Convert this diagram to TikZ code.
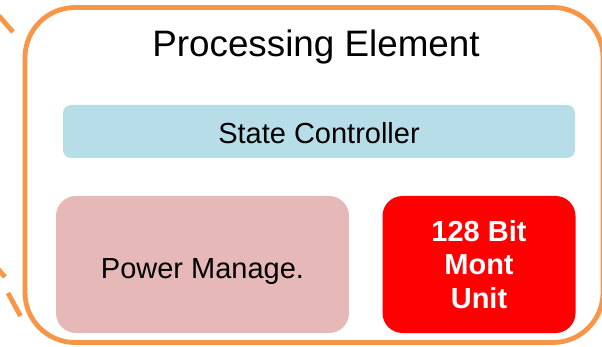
\documentclass[tikz,border=0pt]{standalone}
\usepackage{fontspec}
\setmainfont{Liberation Sans}
\definecolor{peorange}{HTML}{F79646}
\definecolor{scblue}{HTML}{B7DDE8}
\definecolor{pmpink}{HTML}{E6B9B8}
\definecolor{mured}{HTML}{FF0000}
\tikzset{
  peline/.style={draw=peorange, line width=4.8pt},
  innerbox/.style={draw=none, inner sep=0pt, outer sep=0pt},
  lbl/.style={font=\fontsize{29}{34}\selectfont, text=black},
}
\begin{document}
\begin{tikzpicture}[x=1pt,y=-1pt]
\useasboundingbox (0,0) rectangle (602,347);
\fill[white] (0,0) rectangle (602,347);
% outer dashed fragments
\draw[peline, line cap=butt] (-1,16) -- (13,32);
\draw[peline, line cap=butt] (-2,269) -- (5,277);
\draw[peline, line cap=butt] (8,293) -- (20.5,316);
% processing element container
\node[peline, rectangle, rounded corners=50pt, minimum width=578pt, minimum height=335pt, inner sep=0pt] (pe) at (314,175) {};
\node[anchor=base, font=\fontsize{36.8}{43}\selectfont] (title) at (316,56.5) {Processing Element};
% state controller
\node[innerbox, fill=scblue, rounded corners=8pt, minimum width=512pt, minimum height=53pt, lbl, text height=24pt, text depth=0pt] (sc) at (319,131.5) {State Controller};
% power manage
\node[innerbox, fill=pmpink, rounded corners=20pt, minimum width=293pt, minimum height=137pt, lbl, text height=27pt, text depth=0pt] (pm) at (202.5,264.5) {Power Manage.};
% mont unit
\node[innerbox, fill=mured, rounded corners=20pt, minimum width=193pt, minimum height=137pt, text=white, align=center, font=\bfseries\fontsize{29}{33.5}\selectfont] (mu) at (479,264.5) {128 Bit\\Mont\\Unit};
\end{tikzpicture}
\end{document}
